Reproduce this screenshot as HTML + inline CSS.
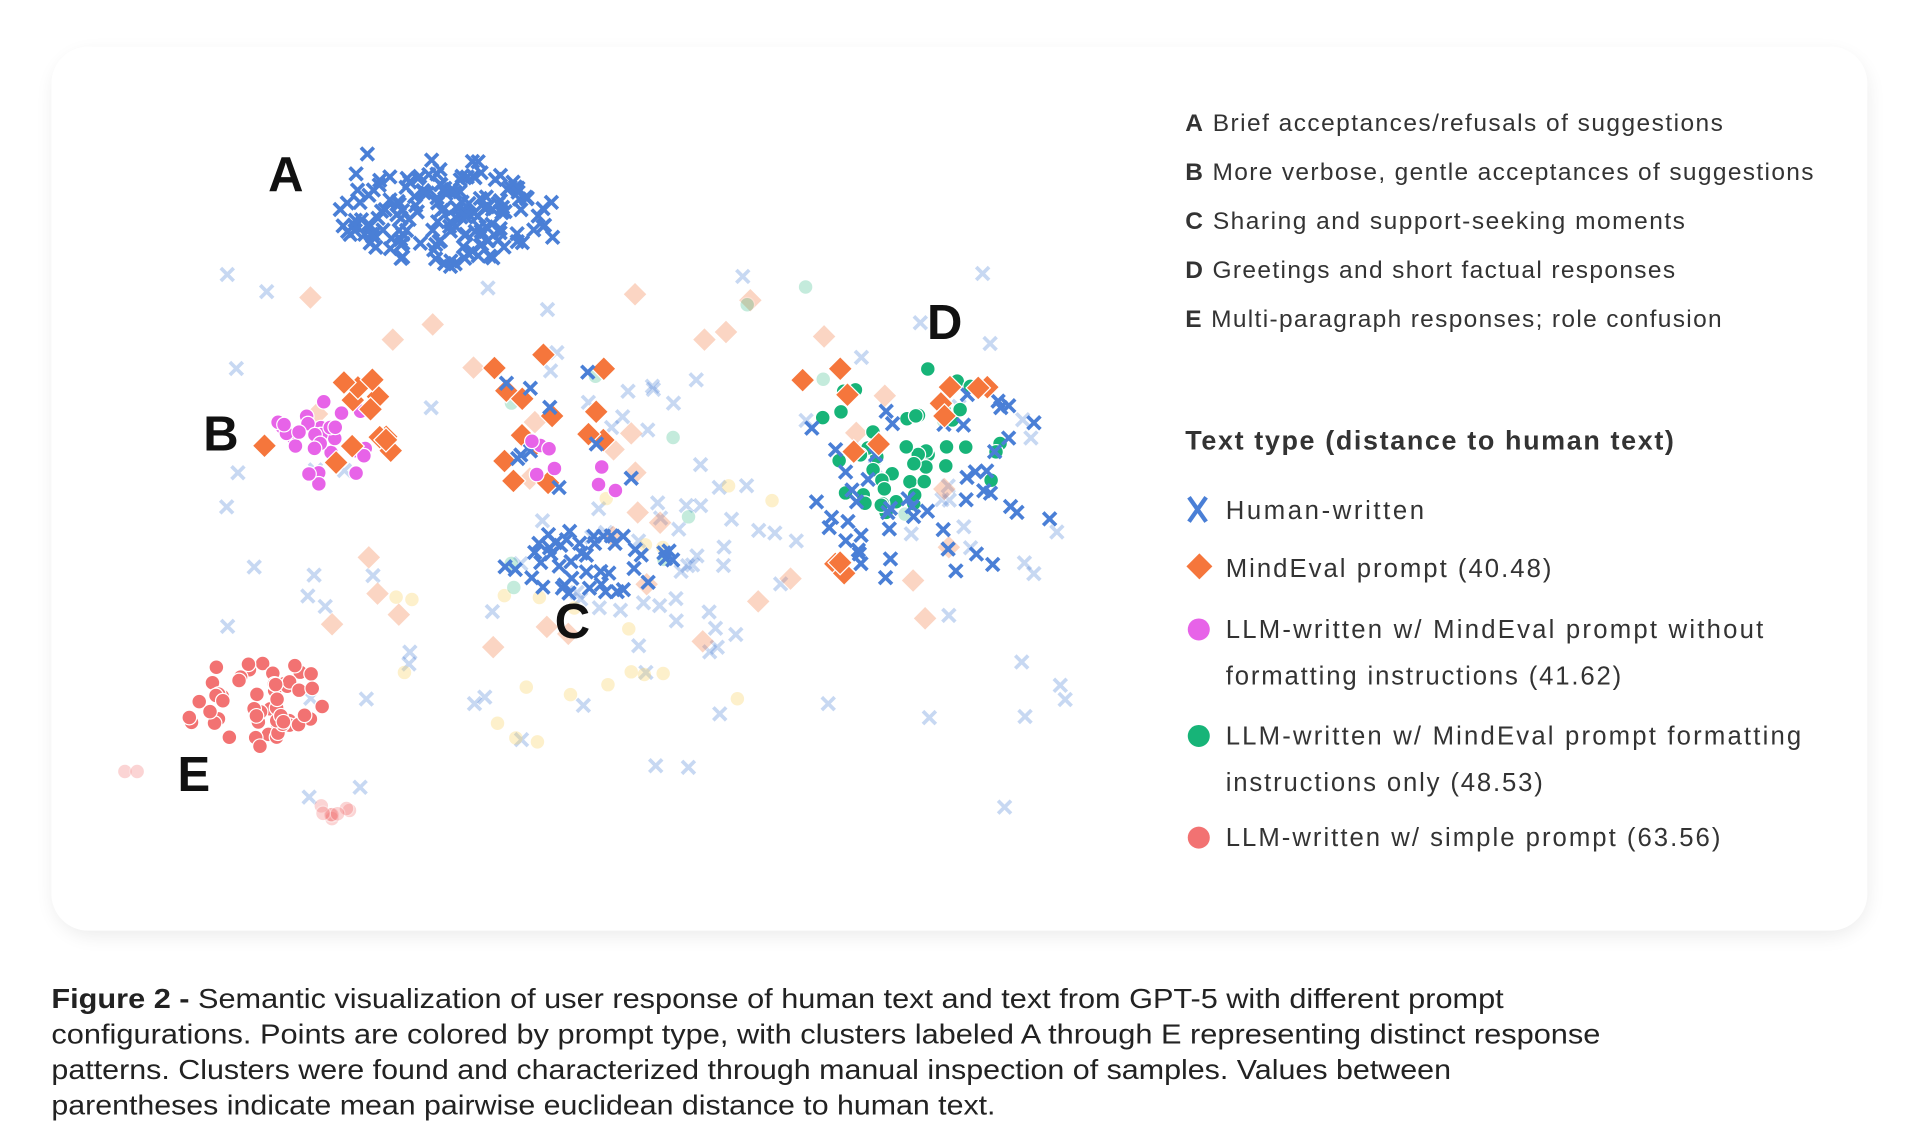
<!DOCTYPE html>
<html><head><meta charset="utf-8"><style>
html,body{margin:0;padding:0;background:#fff;width:1920px;height:1123px;overflow:hidden}
svg{display:block}
text{font-family:"Liberation Sans",sans-serif}
</style></head><body>
<svg id="s" width="1920" height="1123" viewBox="0 0 1568 917" xmlns="http://www.w3.org/2000/svg">
<defs>
<filter id="sh" x="-5%" y="-5%" width="110%" height="115%"><feGaussianBlur stdDeviation="8"/></filter>
<g id="mx"><path d="M-4.2,-4.2 L4.2,4.2 M-4.2,4.2 L4.2,-4.2" stroke="#4a7fd6" stroke-width="3" stroke-linecap="square"/></g>
<g id="md"><rect x="-7" y="-7" width="14" height="14" transform="rotate(45)" fill="#f5763c" stroke="#fff" stroke-width="1"/></g>
<g id="mm"><circle r="6" fill="#e763e8" stroke="#fff" stroke-width="1"/></g>
<g id="mg"><circle r="6" fill="#17b478" stroke="#fff" stroke-width="1"/></g>
<g id="mr"><circle r="6" fill="#f27272" stroke="#fff" stroke-width="1"/></g>
<g id="my"><circle r="5.5" fill="#f8d36a"/></g>
</defs>
<rect x="44" y="44" width="1481" height="720" rx="32" fill="#000" opacity="0.08" filter="url(#sh)"/>
<rect x="42" y="38" width="1483" height="722" rx="30" fill="#fff"/>
<g id="pts"></g>
<g font-size="40" font-weight="bold" fill="#111">
<text x="219" y="156">A</text><text x="166" y="368">B</text><text x="453" y="521">C</text><text x="757" y="277">D</text><text x="145" y="646">E</text>
</g>
<g font-size="20" fill="#333" lengthAdjust="spacingAndGlyphs">
<text x="968" y="107" textLength="439"><tspan font-weight="bold">A</tspan>  Brief acceptances/refusals of suggestions</text>
<text x="968" y="147" textLength="513"><tspan font-weight="bold">B</tspan>  More verbose, gentle acceptances of suggestions</text>
<text x="968" y="187" textLength="408"><tspan font-weight="bold">C</tspan>  Sharing and support-seeking moments</text>
<text x="968" y="227" textLength="400"><tspan font-weight="bold">D</tspan>  Greetings and short factual responses</text>
<text x="968" y="267" textLength="438"><tspan font-weight="bold">E</tspan>  Multi-paragraph responses; role confusion</text>
<text x="968" y="367" font-size="22" font-weight="bold" textLength="399">Text type (distance to human text)</text>
<text x="1001" y="424" font-size="21" textLength="162">Human-written</text>
<text x="1001" y="471" font-size="21" textLength="266">MindEval prompt (40.48)</text>
<text x="1001" y="521" font-size="21" textLength="439">LLM-written w/ MindEval prompt without</text>
<text x="1001" y="559" font-size="21" textLength="323">formatting instructions (41.62)</text>
<text x="1001" y="608" font-size="21" textLength="470">LLM-written w/ MindEval prompt formatting</text>
<text x="1001" y="646" font-size="21" textLength="259">instructions only (48.53)</text>
<text x="1001" y="691" font-size="21" textLength="404">LLM-written w/ simple prompt (63.56)</text>
</g>
<path d="M971,406 L985,426 M971,426 L985,406" stroke="#4a7fd6" stroke-width="3.5"/>
<rect x="972" y="455" width="15" height="15" transform="rotate(45 979.5 462.5)" fill="#f5763c"/>
<circle cx="979" cy="514" r="9" fill="#e763e8"/>
<circle cx="979" cy="601" r="9" fill="#17b478"/>
<circle cx="979" cy="684" r="9" fill="#f27272"/>
<g font-size="23" fill="#222">
<text x="42" y="823" textLength="1186" lengthAdjust="spacingAndGlyphs"><tspan font-weight="bold">Figure 2 -</tspan> Semantic visualization of user response of human text and text from GPT-5 with different prompt</text>
<text x="42" y="852" textLength="1265" lengthAdjust="spacingAndGlyphs">configurations. Points are colored by prompt type, with clusters labeled A through E representing distinct response</text>
<text x="42" y="881" textLength="1143" lengthAdjust="spacingAndGlyphs">patterns. Clusters were found and characterized through manual inspection of samples. Values between</text>
<text x="42" y="910" textLength="771" lengthAdjust="spacingAndGlyphs">parentheses indicate mean pairwise euclidean distance to human text.</text>
</g>
</svg>
<script>
var seed=11;function r(){seed=(seed*16807)%2147483647;return seed/2147483647;}
var g=document.getElementById('pts');var out=[];
function put(id,x,y,op){out.push('<use href="#'+id+'" x="'+x.toFixed(1)+'" y="'+y.toFixed(1)+'"'+(op?' opacity="'+op+'"':'')+'/>');}
function add(id,n,x0,x1,y0,y1,op){for(var i=0;i<n;i++)put(id,x0+r()*(x1-x0),y0+r()*(y1-y0),op);}
function blob(id,n,cx,cy,rx,ry,op){for(var i=0;i<n;i++){var a=r()*6.2832,d=Math.pow(r(),0.6);put(id,cx+Math.cos(a)*d*rx,cy+Math.sin(a)*d*ry,op);}}
// faint background
add('mx',80,185,870,215,660,0.3);
blob('mx',30,560,470,90,90,0.3);
add('md',35,250,780,240,540,0.3);
add('my',22,290,650,380,610,0.35);
add('mg',12,390,800,230,520,0.25);
blob('mr',8,265,665,25,15,0.3);
put('mr',102,630,0.3);put('mr',112,630,0.3);
// A
blob('mx',160,368,178,95,40);
add('mx',6,290,430,125,145);
// B
blob('mm',30,268,362,50,38);
add('md',12,272,332,294,392);
put('md',216,364);
// C
blob('mx',45,478,458,72,28);
add('md',14,400,528,288,400);
add('mx',10,405,545,300,400);
add('mm',8,420,545,355,405);
// D
blob('mg',45,740,365,80,70);
blob('mx',50,757,388,112,88);
add('md',10,650,835,295,400);
add('md',3,655,690,455,470);
// E
blob('mr',55,208,573,58,38);
g.innerHTML=out.join('');
</script>
</body></html>
